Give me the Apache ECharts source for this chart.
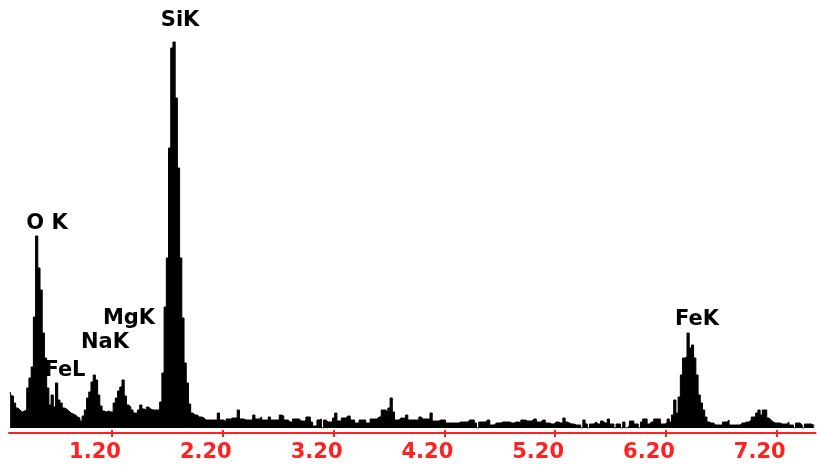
<!DOCTYPE html>
<html>
<head>
<meta charset="utf-8">
<script src="https://cdn.jsdelivr.net/npm/echarts@6/dist/echarts.min.js"></script>
<style>html,body{margin:0;padding:0;background:#fff;}#c{width:817px;height:467px;}</style>
</head>
<body>
<div id="c"></div>
<script>
// Spectrum channels: energy (keV) of first channel and channel width
const channelStart = 0.28;
const channelWidth = 0.02;
// Counts per channel (arbitrary units)
const counts = [
36,32,25,20,18,16,17,18,40,50,
61,111,192,160,138,95,70,40,23,33,
21,45,28,25,20,19,17,15,14,13,
11,10,7,12,18,30,36,46,53,48,
33,22,17,16,17,16,16,25,30,37,
41,48,32,23,21,18,15,15,18,23,
19,18,21,19,18,18,18,18,26,55,
121,170,280,380,386,330,260,170,110,65,
45,24,15,13,13,11,11,10,8,8,
8,8,8,8,15,8,8,6,9,9,
10,10,10,18,9,9,8,8,8,8,
13,9,9,11,8,8,8,11,8,8,
8,8,13,12,8,8,6,6,9,9,
9,7,7,7,11,11,6,2,2,8,
9,0,8,6,6,6,10,15,7,7,
10,10,12,12,8,8,5,5,8,8,
8,5,5,9,9,9,11,11,18,18,
16,20,30,16,8,8,10,10,10,13,
8,8,8,8,8,11,9,9,9,9,
15,7,7,7,8,8,8,5,5,5,
5,5,5,6,6,6,6,8,8,8,
5,0,6,6,6,8,8,3,3,5,
5,5,6,6,6,6,5,5,6,6,
5,8,8,7,7,7,9,9,6,6,
8,8,5,5,4,4,6,6,5,5,
10,6,5,4,4,3,3,3,0,8,
4,0,4,4,6,4,4,7,5,5,
9,4,4,0,4,4,0,6,0,2,
7,7,4,4,0,6,9,9,4,6,
6,9,9,9,4,4,5,9,6,13,
28,15,31,53,70,71,95,80,83,70,
53,33,25,18,11,6,5,5,3,3,
3,3,6,6,8,3,3,3,3,3,
5,5,6,6,8,11,11,15,18,13,
18,18,10,8,6,5,5,5,4,4,
4,6,3,3,0,5,5,3,0,4,
4,4,3,3
];
// Axis tick labels (keV)
const tickValues = [1.2, 2.2, 3.2, 4.2, 5.2, 6.2, 7.2];
const tickLabels = ['1.20','2.20','3.20','4.20','5.20','6.20','7.20'];
// Peak annotations
const peakNames = ['O K', 'FeL', 'NaK', 'MgK', 'SiK', 'FeK'];
const peakLabelEnergy = [0.613, 0.775, 1.137, 1.353, 1.814, 6.48];
const peakLabelHeight = [204, 57, 85, 109, 407, 108];

const spectrum = counts.map((c, i) => [channelStart + i * channelWidth, c]);
const labelData = peakNames.map((n, i) => ({ name: n, value: [peakLabelEnergy[i], peakLabelHeight[i]] }));

const chart = echarts.init(document.getElementById('c'), null, { renderer: 'canvas' });
const red = '#ff2020';
chart.setOption({
  animation: false,
  backgroundColor: '#ffffff',
  grid: { left: 9, right: 1.5, top: 8, bottom: 39, containLabel: false },
  xAxis: [{
    type: 'value', min: 0.27, max: 7.55, position: 'bottom', offset: 5,
    axisLine: { onZero: false, lineStyle: { color: red, width: 2 } },
    axisTick: { customValues: tickValues, length: 4, lineStyle: { color: red, width: 2 } },
    axisLabel: {
      customValues: tickValues,
      formatter: v => tickLabels[tickValues.findIndex(t => Math.abs(t - v) < 1e-6)] || v.toFixed(2),
      color: red, fontFamily: 'DejaVu Sans', fontWeight: 'bold', fontSize: 21,
      margin: 9, padding: [0, 34, 0, 0]
    },
    splitLine: { show: false }
  }, {
    type: 'value', min: 0.27, max: 7.55, position: 'bottom', offset: 5,
    axisLine: { onZero: false, show: false },
    axisTick: { customValues: tickValues, inside: true, length: 3, lineStyle: { color: red, width: 2 } },
    axisLabel: { show: false },
    splitLine: { show: false }
  }],
  yAxis: { type: 'value', min: 0, max: 420, show: false, splitLine: { show: false } },
  series: [{
    type: 'line', data: spectrum, step: 'middle', symbol: 'none',
    lineStyle: { color: '#000', width: 1 },
    areaStyle: { color: '#000', opacity: 1 },
    silent: true
  }, {
    type: 'scatter', data: labelData, symbolSize: 1, clip: false,
    itemStyle: { color: '#ffffff' },
    label: {
      show: true, position: 'inside', formatter: '{b}', opacity: 1,
      color: '#000000', fontFamily: 'DejaVu Sans', fontWeight: 'bold', fontSize: 21,
      textBorderWidth: 0
    },
    silent: true
  }]
});
</script>
</body>
</html>
